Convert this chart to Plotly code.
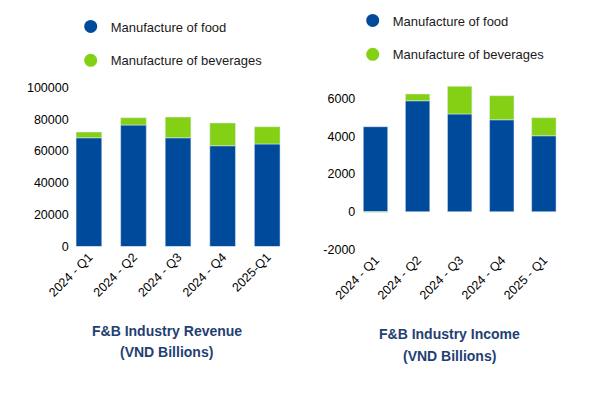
import plotly.graph_objects as go

# ---- data ----
rev_quarters = ["2024 - Q1", "2024 - Q2", "2024 - Q3", "2024 - Q4", "2025-Q1"]
rev_food = [68300, 76300, 68300, 63300, 64400]
rev_beverages = [3600, 4600, 13000, 14300, 10800]

inc_quarters = ["2024 - Q1", "2024 - Q2", "2024 - Q3", "2024 - Q4", "2025 - Q1"]
inc_food = [4520, 5900, 5200, 4890, 4040]
inc_beverages = [-30, 360, 1470, 1280, 960]

rev_ticks = [0, 20000, 40000, 60000, 80000, 100000]
rev_ticktext = ["0", "20000", "40000", "60000", "80000", "100000"]
inc_ticks = [-2000, 0, 2000, 4000, 6000]
inc_ticktext = ["-2000", "0", "2000", "4000", "6000"]

BLUE = "#004A9C"
GREEN = "#84D014"
TITLE = "#1F3F73"
OFF = 8  # page body margin
W, H = 590 - OFF, 396 - OFF

def px(x):
    return (x - OFF) / W

def py(y):
    return 1 - (y - OFF) / H

fig = go.Figure()

# Revenue
fig.add_trace(go.Bar(x=rev_quarters, y=rev_food, marker_color=BLUE, width=0.576,
                     xaxis="x", yaxis="y", showlegend=False))
fig.add_trace(go.Bar(x=rev_quarters, y=rev_beverages, marker_color=GREEN, width=0.576,
                     xaxis="x", yaxis="y", showlegend=False))
# Income
fig.add_trace(go.Bar(x=inc_quarters, y=inc_food, marker_color=BLUE, width=0.58,
                     xaxis="x2", yaxis="y2", showlegend=False))
fig.add_trace(go.Bar(x=inc_quarters, y=inc_beverages, marker_color=GREEN, width=0.58,
                     xaxis="x2", yaxis="y2", showlegend=False))

# legend entries (circle markers)
for name, col, grp in [("Manufacture of food", BLUE, "a"), ("Manufacture of beverages", GREEN, "b")]:
    fig.add_trace(go.Scatter(x=[None], y=[None], mode="markers", name=name,
                             marker=dict(color=col, size=13, symbol="circle"),
                             legendgroup=grp, legend="legend", xaxis="x", yaxis="y"))
    fig.add_trace(go.Scatter(x=[None], y=[None], mode="markers", name=name,
                             marker=dict(color=col, size=13, symbol="circle"),
                             legendgroup=grp + "2", legend="legend2", xaxis="x2", yaxis="y2"))

tickfont = dict(family="Liberation Sans, Arial, sans-serif", size=12.5, color="#000000")
legfont = dict(family="Liberation Sans, Arial, sans-serif", size=13, color="#1a1a1a")

fig.update_layout(
    width=W, height=H,
    margin=dict(l=0, r=0, t=0, b=0, autoexpand=False),
    paper_bgcolor="white", plot_bgcolor="white",
    barmode="relative",
    xaxis=dict(domain=[px(69.7), px(289.5)], range=[-0.431, 4.5], type="category",
               tickangle=-45, tickfont=tickfont, showgrid=False, showline=False, ticks="",
               anchor="y", automargin=False),
    yaxis=dict(domain=[py(246.5), py(87.3)], range=[0, 100000], tickvals=rev_ticks,
               ticktext=rev_ticktext, tickfont=tickfont, showgrid=False, zeroline=False,
               showline=False, ticks="", anchor="x", automargin=False),
    xaxis2=dict(domain=[px(356.3), px(564.9)], range=[-0.456, 4.5], type="category",
                tickangle=-45, tickfont=tickfont, showgrid=False, showline=False, ticks="",
                anchor="y2", automargin=False),
    yaxis2=dict(domain=[py(249.3), py(80.1)], range=[-2000, 7000], tickvals=inc_ticks,
                ticktext=inc_ticktext, tickfont=tickfont, showgrid=False, zeroline=False,
                showline=False, ticks="", anchor="x2", automargin=False),
    legend=dict(x=px(70.7), y=py(11.5), xanchor="left", yanchor="top", orientation="v",
                font=legfont, tracegroupgap=14, itemclick=False, bgcolor="rgba(0,0,0,0)"),
    legend2=dict(x=px(352.7), y=py(5.5), xanchor="left", yanchor="top", orientation="v",
                 font=legfont, tracegroupgap=14, itemclick=False, bgcolor="rgba(0,0,0,0)"),
)

tfont = dict(family="Liberation Sans, Arial, sans-serif", size=14, color=TITLE, weight="bold")
for text, x, y in [("F&B Industry Revenue", 166.7, 331), ("(VND Billions)", 166.7, 352.3),
                   ("F&B Industry Income", 449.3, 334.3), ("(VND Billions)", 449.3, 355.7)]:
    fig.add_annotation(text=f"<b>{text}</b>", x=px(x), y=py(y), xref="paper", yref="paper",
                       xanchor="center", yanchor="middle", showarrow=False, font=tfont)

fig.write_html("out.html")
